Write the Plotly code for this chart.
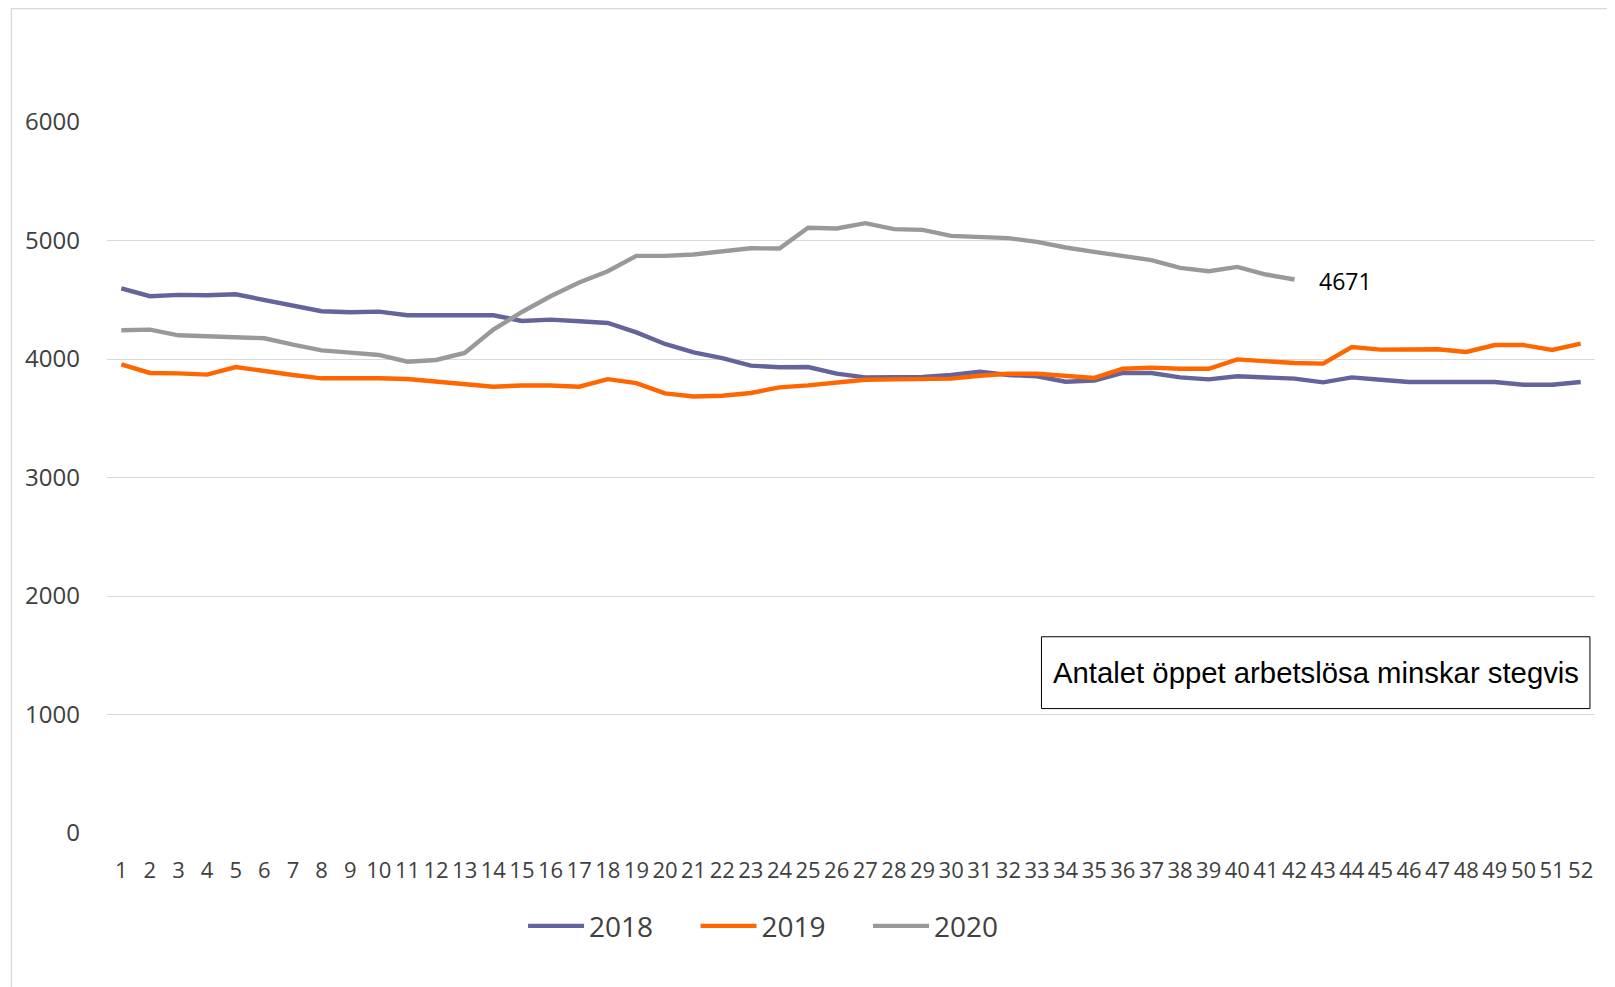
import plotly.graph_objects as go

weeks = [str(i) for i in range(1, 53)]

y2018 = [4597, 4530, 4541, 4538, 4546, 4499, 4454, 4403, 4394, 4400,
         4369, 4369, 4372, 4369, 4321, 4332, 4318, 4304, 4225, 4127,
         4056, 4008, 3944, 3930, 3932, 3876, 3845, 3845, 3848, 3865,
         3893, 3865, 3854, 3808, 3818, 3882, 3882, 3845, 3828, 3854,
         3842, 3834, 3803, 3845, 3825, 3806, 3806, 3806, 3806, 3783,
         3783, 3806]

y2019 = [3955, 3882, 3879, 3868, 3932, 3896, 3865, 3837, 3839, 3837,
         3831, 3808, 3792, 3766, 3777, 3777, 3766, 3830, 3797, 3710,
         3684, 3690, 3713, 3761, 3777, 3797, 3825, 3828, 3828, 3834,
         3859, 3876, 3876, 3854, 3840, 3918, 3927, 3918, 3918, 3997,
         3977, 3966, 3961, 4101, 4079, 4085, 4082, 4059, 4118, 4118,
         4076, 4130]

y2020 = [4242, 4248, 4200, 4192, 4183, 4175, 4121, 4073, 4054, 4034,
         3977, 3992, 4051, 4248, 4397, 4530, 4645, 4740, 4870, 4870,
         4882, 4910, 4935, 4932, 5107, 5101, 5146, 5096, 5090, 5039,
         5025, 5020, 4989, 4941, 4904, 4873, 4834, 4769, 4741, 4777,
         4713, 4671]

series_names = ["2018", "2019", "2020"]
series_colors = ["#65639B", "#FF6600", "#999999"]
series_values = [y2018, y2019, y2020]

last_label = "4671"
box_text = "Antalet öppet arbetslösa minskar stegvis"

yticks = [0, 1000, 2000, 3000, 4000, 5000, 6000]

fig = go.Figure()
for name, color, vals in zip(series_names, series_colors, series_values):
    fig.add_trace(go.Scatter(
        x=weeks[:len(vals)], y=vals, mode="lines", name=name,
        line=dict(color=color, width=4.4),
    ))

fig.add_annotation(
    x=weeks[len(y2020) - 1], y=y2020[-1], text=last_label,
    showarrow=False, xanchor="left", yanchor="middle", xshift=-6, yshift=-2,
    font=dict(family="Open Sans", size=23, color="#000000"),
)

# text box
fig.add_shape(type="rect", xref="paper", yref="paper",
              x0=0.628, x1=0.9966, y0=0.175, y1=0.276,
              line=dict(color="#000000", width=1), fillcolor="white", layer="above")
fig.add_annotation(xref="paper", yref="paper", x=0.8125, y=0.226,
                   text=box_text, showarrow=False, xanchor="center", yanchor="middle",
                   font=dict(family="Liberation Sans", size=29.3, color="#000000"))

# chart border
fig.add_shape(type="rect", xref="paper", yref="paper",
              x0=-0.0642, x1=1.03, y0=-0.3, y1=1.1596,
              line=dict(color="#D9D9D9", width=1.3), layer="below")

fig.update_layout(
    width=1615, height=987,
    margin=dict(l=99, r=28, t=114, b=162),
    paper_bgcolor="white", plot_bgcolor="white",
    showlegend=True,
    legend=dict(orientation="h", x=0.2796, xanchor="left", y=-0.131, yanchor="middle",
                font=dict(family="Open Sans", size=28, color="#404040"),
                itemwidth=56, entrywidth=101.5, bgcolor="rgba(0,0,0,0)"),
    xaxis=dict(type="category", range=[-0.5, 51.5], tickmode="array",
               tickvals=weeks, ticktext=weeks, tickangle=0,
               showgrid=False, showline=False, zeroline=False, ticks="",
               ticklabelstandoff=22,
               tickfont=dict(family="Open Sans", size=22, color="#404040")),
    yaxis=dict(range=[0, 6000], tickmode="array", tickvals=yticks,
               ticktext=[str(v) for v in yticks],
               showgrid=True, gridcolor="#D9D9D9", gridwidth=1.3,
               zeroline=False, showline=False, ticks="",
               ticklabelstandoff=26,
               tickfont=dict(family="Open Sans", size=24, color="#404040")),
)

fig.write_html("out.html")
